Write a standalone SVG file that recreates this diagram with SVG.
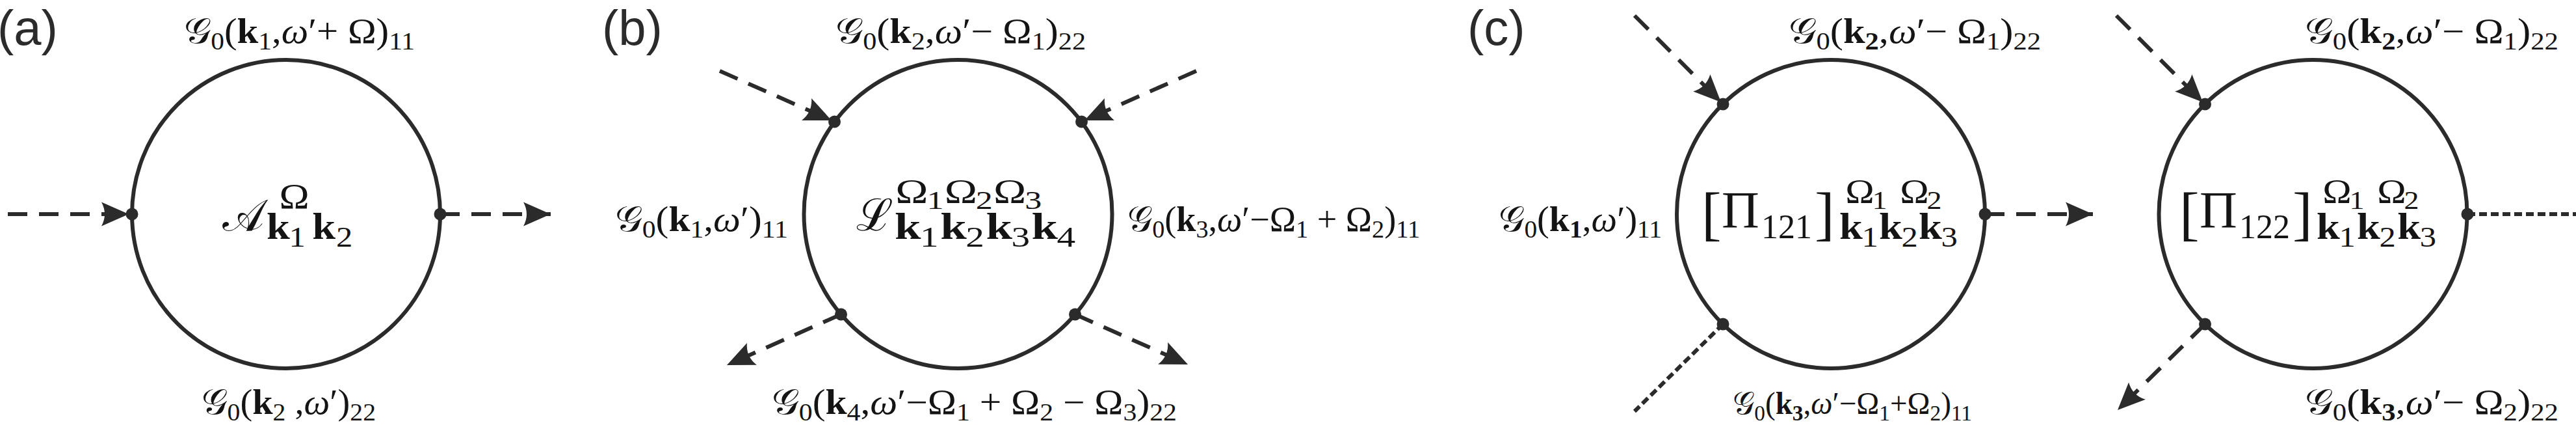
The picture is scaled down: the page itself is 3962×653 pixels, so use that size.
<svg xmlns="http://www.w3.org/2000/svg" width="3962" height="653" viewBox="0 0 3962 653">
<style>
.ln{fill:none;stroke:#2b2b2b;stroke-width:6}
.ds{fill:none;stroke:#2b2b2b;stroke-width:6;stroke-dasharray:30 18}
.dt{fill:none;stroke:#2b2b2b;stroke-width:6;stroke-dasharray:12 6}
.arr{marker-end:url(#ah)}
.nd{fill:#2b2b2b}
.pl{font-family:"Liberation Sans",Arial,sans-serif;font-size:76px;fill:#2b2b2b}
.t{font-family:"Liberation Serif","DejaVu Serif",serif;fill:#141414}
.lb{font-size:54px}
.s{font-size:38px}
.b{font-weight:bold}
.i{font-style:italic}
.K{font-size:56px;font-weight:bold}
.D{font-size:44px}
.O{font-size:52px}
.d{font-size:40px}
</style>
<defs>
<marker id="ah" markerWidth="46" markerHeight="40" refX="42" refY="20" orient="auto" markerUnits="userSpaceOnUse" overflow="visible">
<path d="M0,1.5 L42,20 L0,38.5 Q10,20 0,1.5 Z" fill="#2b2b2b"/>
</marker>
</defs>

<g id="panel-labels">
<text class="pl" x="-4" y="69">(a)</text>
<text class="pl" x="926" y="69">(b)</text>
<text class="pl" x="2257" y="69">(c)</text>
</g>

<g id="connectors">
<path class="ds arr" d="M12,329 L198,329"/>
<path class="ds arr" d="M677,329 L847,329"/>
<path class="ds arr" d="M1107,109 L1279,185"/>
<path class="ds arr" d="M1840,109 L1668,185"/>
<path class="ds arr" d="M1293.5,483 L1118,561"/>
<path class="ds arr" d="M1653.5,483 L1827,560"/>
<path class="ds arr" d="M2514,24 L2647,157"/>
<path class="dt" d="M2650,498 L2514,632"/>
<path class="ds arr" d="M3053,329 L3219,329"/>
<path class="ds arr" d="M3255,24 L3388,157"/>
<path class="ds arr" d="M3391.5,498 L3257,630"/>
<path class="dt" d="M3795,329 L3962,329"/>
</g>

<g id="node-a">
<circle class="ln" cx="440" cy="329" r="237"/>
<circle class="nd" cx="203" cy="329" r="9.5"/>
<circle class="nd" cx="677" cy="329" r="9.5"/>
<text class="t" x="342" y="354" font-size="68">𝒜</text>
<text class="t" transform="translate(410,0) scale(1.15,1)"><tspan x="17" y="320" font-size="54">Ω</tspan><tspan class="K" x="0" y="367">k</tspan><tspan class="D" x="30" y="379">1</tspan><tspan class="K" x="61" y="367">k</tspan><tspan class="D" x="93" y="379">2</tspan></text>
</g>

<g id="node-b">
<circle class="ln" cx="1473.5" cy="329" r="237"/>
<circle class="nd" cx="1283.5" cy="187" r="9.5"/>
<circle class="nd" cx="1663.5" cy="187" r="9.5"/>
<circle class="nd" cx="1293.5" cy="483" r="9.5"/>
<circle class="nd" cx="1653.5" cy="483" r="9.5"/>
<text class="t" x="1317" y="354" font-size="68">ℒ</text>
<text class="t" transform="translate(1376,0) scale(1.3,1)"><tspan class="O" x="1" y="312">Ω</tspan><tspan class="d" x="38" y="321">1</tspan><tspan class="O" x="59" y="312">Ω</tspan><tspan class="d" x="96" y="321">2</tspan><tspan class="O" x="117" y="312">Ω</tspan><tspan class="d" x="154" y="321">3</tspan><tspan class="K" x="0" y="367">k</tspan><tspan class="D" x="30" y="379">1</tspan><tspan class="K" x="54" y="367">k</tspan><tspan class="D" x="84" y="379">2</tspan><tspan class="K" x="108" y="367">k</tspan><tspan class="D" x="138" y="379">3</tspan><tspan class="K" x="162" y="367">k</tspan><tspan class="D" x="192" y="379">4</tspan></text>
</g>

<g id="node-c1">
<circle class="ln" cx="2816" cy="329" r="237"/>
<circle class="nd" cx="2650" cy="160" r="9.5"/>
<circle class="nd" cx="2650" cy="498" r="9.5"/>
<circle class="nd" cx="3053" cy="329" r="9.5"/>
<text class="t"><tspan x="2617" y="359" font-size="92">[</tspan><tspan x="2648" y="350" font-size="80">Π</tspan><tspan x="2709" y="366" font-size="52">121</tspan><tspan x="2791" y="359" font-size="92">]</tspan></text>
<text class="t" transform="translate(2829,0) scale(1.15,1)"><tspan class="O" x="8" y="312">Ω</tspan><tspan class="d" x="44" y="321">1</tspan><tspan class="O" x="81" y="312">Ω</tspan><tspan class="d" x="117" y="321">2</tspan><tspan class="K" x="0" y="367">k</tspan><tspan class="D" x="30" y="379">1</tspan><tspan class="K" x="53" y="367">k</tspan><tspan class="D" x="83" y="379">2</tspan><tspan class="K" x="106" y="367">k</tspan><tspan class="D" x="136" y="379">3</tspan></text>
</g>

<g id="node-c2">
<circle class="ln" cx="3557.5" cy="329" r="237"/>
<circle class="nd" cx="3391.5" cy="160" r="9.5"/>
<circle class="nd" cx="3391.5" cy="498" r="9.5"/>
<circle class="nd" cx="3795" cy="329" r="9.5"/>
<text class="t"><tspan x="3352" y="359" font-size="92">[</tspan><tspan x="3383" y="350" font-size="80">Π</tspan><tspan x="3444" y="366" font-size="52">122</tspan><tspan x="3526" y="359" font-size="92">]</tspan></text>
<text class="t" transform="translate(3563,0) scale(1.15,1)"><tspan class="O" x="8" y="312">Ω</tspan><tspan class="d" x="44" y="321">1</tspan><tspan class="O" x="81" y="312">Ω</tspan><tspan class="d" x="117" y="321">2</tspan><tspan class="K" x="0" y="367">k</tspan><tspan class="D" x="30" y="379">1</tspan><tspan class="K" x="54" y="367">k</tspan><tspan class="D" x="84" y="379">2</tspan><tspan class="K" x="108" y="367">k</tspan><tspan class="D" x="138" y="379">3</tspan></text>
</g>

<g id="edge-labels">
<text class="t lb" x="283" y="66" textLength="355" lengthAdjust="spacingAndGlyphs">𝒢<tspan class="s" dy="10">0</tspan><tspan dy="-10">(</tspan><tspan class="b">k</tspan><tspan class="s" dy="10">1</tspan><tspan dy="-10">,</tspan><tspan class="i">ω</tspan>′+ Ω)<tspan class="s" dy="10">11</tspan></text>
<text class="t lb" x="310" y="636" textLength="268" lengthAdjust="spacingAndGlyphs">𝒢<tspan class="s" dy="10">0</tspan><tspan dy="-10">(</tspan><tspan class="b">k</tspan><tspan class="s" dy="10">2</tspan><tspan dy="-10"> ,</tspan><tspan class="i">ω</tspan>′)<tspan class="s" dy="10">22</tspan></text>
<text class="t lb" x="1285" y="66" textLength="385" lengthAdjust="spacingAndGlyphs">𝒢<tspan class="s" dy="10">0</tspan><tspan dy="-10">(</tspan><tspan class="b">k</tspan><tspan class="s" dy="10">2</tspan><tspan dy="-10">,</tspan><tspan class="i">ω</tspan>′− Ω<tspan class="s" dy="10">1</tspan><tspan dy="-10">)</tspan><tspan class="s" dy="10">22</tspan></text>
<text class="t lb" x="946" y="355" textLength="266" lengthAdjust="spacingAndGlyphs">𝒢<tspan class="s" dy="10">0</tspan><tspan dy="-10">(</tspan><tspan class="b">k</tspan><tspan class="s" dy="10">1</tspan><tspan dy="-10">,</tspan><tspan class="i">ω</tspan>′)<tspan class="s" dy="10">11</tspan></text>
<text class="t lb" x="1734" y="355" textLength="450" lengthAdjust="spacingAndGlyphs">𝒢<tspan class="s" dy="10">0</tspan><tspan dy="-10">(</tspan><tspan class="b">k</tspan><tspan class="s" dy="10">3</tspan><tspan dy="-10">,</tspan><tspan class="i">ω</tspan>′−Ω<tspan class="s" dy="10">1</tspan><tspan dy="-10"> + Ω</tspan><tspan class="s" dy="10">2</tspan><tspan dy="-10">)</tspan><tspan class="s" dy="10">11</tspan></text>
<text class="t lb" x="1187" y="636" textLength="623" lengthAdjust="spacingAndGlyphs">𝒢<tspan class="s" dy="10">0</tspan><tspan dy="-10">(</tspan><tspan class="b">k</tspan><tspan class="s" dy="10">4</tspan><tspan dy="-10">,</tspan><tspan class="i">ω</tspan>′−Ω<tspan class="s" dy="10">1</tspan><tspan dy="-10"> + Ω</tspan><tspan class="s" dy="10">2</tspan><tspan dy="-10"> − Ω</tspan><tspan class="s" dy="10">3</tspan><tspan dy="-10">)</tspan><tspan class="s" dy="10">22</tspan></text>
<text class="t lb" x="2305" y="355" textLength="251" lengthAdjust="spacingAndGlyphs">𝒢<tspan class="s" dy="10">0</tspan><tspan dy="-10">(</tspan><tspan class="b">k</tspan><tspan class="s b" dy="10">1</tspan><tspan dy="-10">,</tspan><tspan class="i">ω</tspan>′)<tspan class="s" dy="10">11</tspan></text>
<text class="t lb" x="2751" y="66" textLength="388" lengthAdjust="spacingAndGlyphs">𝒢<tspan class="s" dy="10">0</tspan><tspan dy="-10">(</tspan><tspan class="b">k</tspan><tspan class="s b" dy="10">2</tspan><tspan dy="-10">,</tspan><tspan class="i">ω</tspan>′− Ω<tspan class="s" dy="10">1</tspan><tspan dy="-10">)</tspan><tspan class="s" dy="10">22</tspan></text>
<text class="t" x="2665" y="636" font-size="48" textLength="368" lengthAdjust="spacingAndGlyphs">𝒢<tspan font-size="34" dy="10">0</tspan><tspan dy="-10">(</tspan><tspan class="b">k</tspan><tspan class="b" font-size="34" dy="10">3</tspan><tspan dy="-10">,</tspan><tspan class="i">ω</tspan>′−Ω<tspan font-size="34" dy="10">1</tspan><tspan dy="-10">+Ω</tspan><tspan font-size="34" dy="10">2</tspan><tspan dy="-10">)</tspan><tspan font-size="34" dy="10">11</tspan></text>
<text class="t lb" x="3545" y="66" textLength="390" lengthAdjust="spacingAndGlyphs">𝒢<tspan class="s" dy="10">0</tspan><tspan dy="-10">(</tspan><tspan class="b">k</tspan><tspan class="s b" dy="10">2</tspan><tspan dy="-10">,</tspan><tspan class="i">ω</tspan>′− Ω<tspan class="s" dy="10">1</tspan><tspan dy="-10">)</tspan><tspan class="s" dy="10">22</tspan></text>
<text class="t lb" x="3545" y="636" textLength="390" lengthAdjust="spacingAndGlyphs">𝒢<tspan class="s" dy="10">0</tspan><tspan dy="-10">(</tspan><tspan class="b">k</tspan><tspan class="s b" dy="10">3</tspan><tspan dy="-10">,</tspan><tspan class="i">ω</tspan>′− Ω<tspan class="s" dy="10">2</tspan><tspan dy="-10">)</tspan><tspan class="s" dy="10">22</tspan></text>
</g>
</svg>
